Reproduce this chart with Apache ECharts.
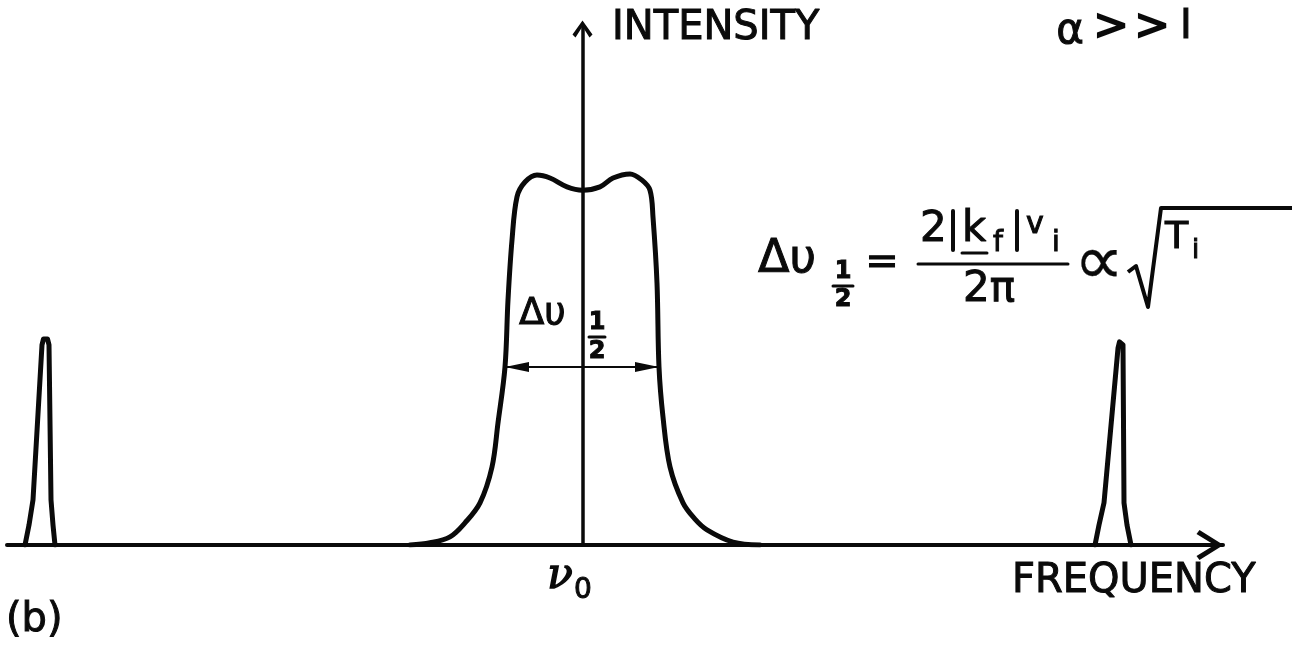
<!DOCTYPE html>
<html>
<head>
<meta charset="utf-8">
<title>Intensity vs frequency</title>
<script src="https://cdn.jsdelivr.net/npm/echarts@6/dist/echarts.min.js"></script>
<style>
  html, body { margin: 0; padding: 0; background: #ffffff; }
  #chart { width: 1303px; height: 646px; }
</style>
</head>
<body>
<div id="chart"></div>
<script>
// Frequency offset from the line centre (arbitrary units) and relative intensity.
const leftSatellite = [
  [-5.575, 0], [-5.535, 0.054], [-5.495, 0.122], [-5.405, 0.541], [-5.39, 0.557],
  [-5.37, 0.561], [-5.35, 0.557], [-5.335, 0.541], [-5.315, 0.122], [-5.295, 0.054], [-5.275, 0]
];
const centralLine = [
  [-1.725, 0], [-1.525, 0.006], [-1.325, 0.022], [-1.175, 0.06], [-1.025, 0.114],
  [-0.905, 0.211], [-0.845, 0.33], [-0.775, 0.481], [-0.745, 0.662], [-0.705, 0.824],
  [-0.655, 0.941], [-0.575, 0.981], [-0.455, 1.0], [-0.325, 0.992], [-0.155, 0.968],
  [0, 0.959], [0.175, 0.968], [0.305, 0.992], [0.475, 1.003], [0.595, 0.986],
  [0.675, 0.959], [0.705, 0.886], [0.745, 0.708], [0.765, 0.481], [0.805, 0.346],
  [0.875, 0.211], [1.005, 0.114], [1.125, 0.07], [1.245, 0.041], [1.505, 0.008], [1.775, 0]
];
const rightSatellite = [
  [5.125, 0], [5.165, 0.054], [5.215, 0.114], [5.355, 0.532], [5.37, 0.549],
  [5.39, 0.551], [5.405, 0.541], [5.415, 0.114], [5.445, 0.054], [5.485, 0]
];
// Full width at half maximum: [left edge, right edge, intensity level]
const halfWidth = [[-0.775, 0.765, 0.481]];

const axisRange = { xMin: -5.755, xMax: 6.405, yMin: 0, yMax: 1.4 };
const labels = {
  yName: 'INTENSITY',
  xName: 'FREQUENCY',
  panel: '(b)',
  centre: 'ν',
  centreSub: '0'
};

const INK = '#0a0a0a';
const FONT = 'DejaVu Sans';

function txt(text, x, y, size, opts) {
  opts = opts || {};
  return {
    type: 'text',
    x: x, y: y,
    z: 10,
    style: {
      text: text,
      font: (opts.style || '') + ' ' + (opts.weight || 'normal') + ' ' + size + 'px ' + (opts.family || FONT),
      fill: INK,
      stroke: INK,
      lineWidth: opts.stroke != null ? opts.stroke : 1.0,
      align: opts.align || 'left',
      textAlign: opts.align || 'left',
      verticalAlign: 'middle',
      textVerticalAlign: 'middle'
    }
  };
}
function seg(x1, y1, x2, y2, w) {
  return { type: 'line', z: 10, shape: { x1: x1, y1: y1, x2: x2, y2: y2 },
    style: { stroke: INK, lineWidth: w, lineCap: 'round' } };
}

const chevronX = 'path://M0,0 L15,24 L11,27 L0,9 L-11,27 L-15,24 Z';
const chevronY = 'path://M0,0 L10,14 L7,17 L0,6 L-7,17 L-10,14 Z';

const lineSeries = (data) => ({
  type: 'line',
  data: data,
  showSymbol: false,
  symbol: 'none',
  smooth: false,
  lineStyle: { color: INK, width: 5, cap: 'round', join: 'round' },
  silent: true,
  z: 3
});

const option = {
  backgroundColor: '#ffffff',
  animation: false,
  grid: { left: 7, right: 80, top: 27, bottom: 101 },
  xAxis: {
    type: 'value',
    min: axisRange.xMin, max: axisRange.xMax,
    axisLine: {
      show: true, onZero: true,
      symbol: ['none', chevronX], symbolSize: [30, 27], symbolOffset: [0, -13],
      lineStyle: { color: INK, width: 4, cap: 'round' }
    },
    axisTick: { show: false }, axisLabel: { show: false }, splitLine: { show: false }
  },
  yAxis: {
    type: 'value',
    min: axisRange.yMin, max: axisRange.yMax,
    axisLine: {
      show: true, onZero: true,
      symbol: ['none', chevronY], symbolSize: [20, 17], symbolOffset: [0, -2],
      lineStyle: { color: INK, width: 3.5 }
    },
    axisTick: { show: false }, axisLabel: { show: false }, splitLine: { show: false }
  },
  series: [
    lineSeries(leftSatellite),
    Object.assign(lineSeries(centralLine), { smooth: 0.35 }),
    lineSeries(rightSatellite),
    {
      type: 'custom',
      coordinateSystem: 'cartesian2d',
      data: halfWidth,
      encode: { x: [0, 1], y: 2 },
      silent: true,
      z: 4,
      renderItem: function (params, api) {
        const lvl = api.value(2);
        const a = api.coord([api.value(0), lvl]);
        const b = api.coord([api.value(1), lvl]);
        return {
          type: 'group',
          children: [
            { type: 'line', shape: { x1: a[0], y1: a[1], x2: b[0], y2: b[1] },
              style: { stroke: INK, lineWidth: 2 } },
            { type: 'polygon', shape: { points: [[a[0], a[1]], [a[0] + 24, a[1] - 5], [a[0] + 24, a[1] + 5]] },
              style: { fill: INK } },
            { type: 'polygon', shape: { points: [[b[0], b[1]], [b[0] - 24, b[1] - 5], [b[0] - 24, b[1] + 5]] },
              style: { fill: INK } }
          ]
        };
      }
    }
  ],
  graphic: [
    // axis titles and panel tag
    txt(labels.yName, 612, 29, 40),
    txt(labels.xName, 1012, 582, 40),
    txt(labels.panel, 6, 621, 40),
    // regime
    txt('α', 1070, 32, 42, { align: 'center' }),
    txt('>', 1111, 28, 42, { align: 'center', stroke: 2 }),
    txt('>', 1152, 28, 42, { align: 'center', stroke: 2 }),
    txt('I', 1186, 28, 40, { align: 'center' }),
    // line centre
    txt(labels.centre, 560, 577, 42, { align: 'center', style: 'italic', family: 'DejaVu Serif', stroke: 1.5 }),
    txt(labels.centreSub, 583, 591, 28, { align: 'center' }),
    // half-width label inside the profile
    txt('Δυ', 519, 314, 37),
    txt('1', 597, 323, 24, { align: 'center', weight: 'bold' }),
    seg(589, 337, 605, 337, 3),
    txt('2', 597, 352, 24, { align: 'center', weight: 'bold' }),
    // Δυ½ = 2|k_f|v_i / 2π ∝ √T_i
    txt('Δυ', 758, 260, 46),
    txt('1', 843, 272, 24, { align: 'center', weight: 'bold' }),
    seg(833, 286, 853, 286, 3),
    txt('2', 843, 300, 24, { align: 'center', weight: 'bold' }),
    txt('=', 882, 264, 40, { align: 'center' }),
    txt('2', 920, 230, 42),
    seg(953, 211, 953, 250, 4),
    txt('k', 962, 230, 42),
    seg(962, 253, 987, 253, 3),
    txt('f', 993, 244, 28),
    seg(1017, 211, 1017, 250, 4),
    txt('v', 1026, 225, 30),
    txt('i', 1052, 244, 28),
    seg(918, 264, 1068, 264, 3),
    txt('2π', 963, 290, 42),
    txt('∝', 1099, 266, 70, { align: 'center', stroke: 0.3 }),
    { type: 'polyline', z: 10,
      shape: { points: [[1128, 272], [1136, 266], [1148, 307], [1161, 208], [1292, 208]] },
      style: { stroke: INK, lineWidth: 4, fill: null, lineJoin: 'round' } },
    txt('T', 1165, 238, 38),
    txt('i', 1192, 251, 26)
  ]
};

const chart = echarts.init(document.getElementById('chart'), null, { renderer: 'canvas' });
chart.setOption(option);
</script>
</body>
</html>
